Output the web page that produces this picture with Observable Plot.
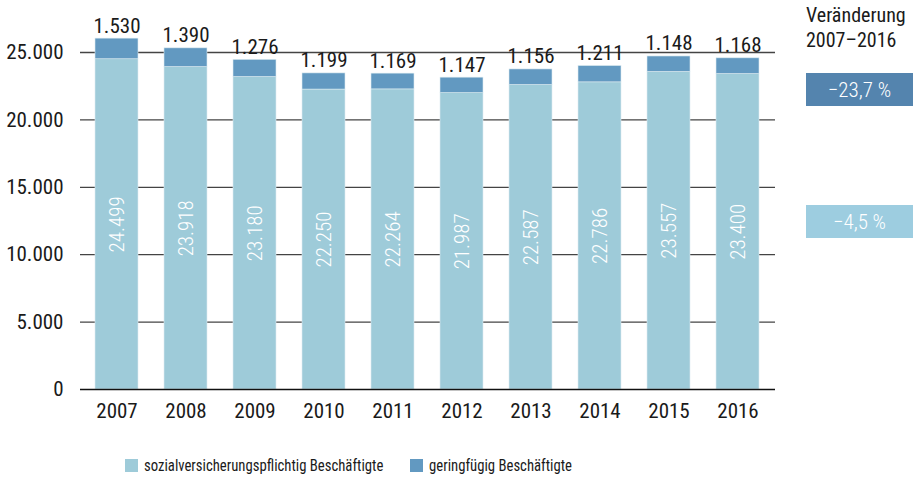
<!DOCTYPE html>
<html>
<head>
<meta charset="utf-8">
<script src="https://cdn.jsdelivr.net/npm/d3@7"></script>
<script src="https://cdn.jsdelivr.net/npm/@observablehq/plot@0.6"></script>
<style>
  body { margin: 0; background: #fff; }
  #wrap { position: relative; width: 913px; height: 479px; font-family: "Roboto Condensed", "Open Sans", sans-serif; font-weight: 400; color: #1a1a1a; }
  .box { position: absolute; left: 806px; width: 107px; height: 33px; color: #fff; font-size: 21px; font-weight: 300; display: flex; align-items: center; justify-content: center; }
  #head { position: absolute; left: 806px; top: 3px; font-size: 20px; line-height: 25px; }
  .item { position: absolute; display: flex; align-items: center; white-space: nowrap; }
  .sw { width: 13px; height: 13px; margin-right: 6px; flex: none; }
  .lab { display: inline-block; transform: scaleX(0.92); transform-origin: left center; }
</style>
</head>
<body>
<div id="wrap"></div>
<script>
const years = [2007, 2008, 2009, 2010, 2011, 2012, 2013, 2014, 2015, 2016];
const svb = [24499, 23918, 23180, 22250, 22264, 21987, 22587, 22786, 23557, 23400];
const gering = [1530, 1390, 1276, 1199, 1169, 1147, 1156, 1211, 1148, 1168];
const seriesNames = ["sozialversicherungspflichtig Beschäftigte", "geringfügig Beschäftigte"];
const barColors = ["#9ecbd9", "#6299c1"];
const changeTitle = ["Veränderung", "2007–2016"];
const changeLabels = ["−23,7 %", "−4,5 %"];
const boxColors = ["#5484ae", "#9dcde0"];
const yTicks = [0, 5000, 10000, 15000, 20000, 25000];

const de = d3.formatLocale({decimal: ",", thousands: ".", grouping: [3], currency: ["", " €"]});
const fmt = de.format(",");

const rows = [];
years.forEach((y, i) => {
  rows.push({year: String(y), type: seriesNames[0], value: svb[i], total: svb[i]});
  rows.push({year: String(y), type: seriesNames[1], value: gering[i], total: svb[i] + gering[i]});
});
const lower = rows.filter(d => d.type === seriesNames[0]);
const upper = rows.filter(d => d.type === seriesNames[1]);

const chart = Plot.plot({
  width: 913,
  height: 448,
  marginLeft: 80,
  marginRight: 138,
  marginTop: 52,
  marginBottom: 59,
  style: {fontFamily: "'Roboto Condensed', 'Open Sans', sans-serif", fontWeight: 400, fontSize: "20px", color: "#1a1a1a", background: "transparent"},
  x: {domain: years.map(String), paddingInner: 0.37, paddingOuter: 0.185, label: null},
  y: {domain: [0, 25000], label: null},
  color: {domain: seriesNames, range: barColors},
  marks: [
    Plot.ruleY(yTicks.filter(t => t > 0), {stroke: "#444", strokeWidth: 1.3}),
    Plot.barY(rows, {x: "year", y: "value", fill: "type", order: seriesNames, stroke: "#dcebf0", strokeWidth: 0.6}),
    Plot.ruleY([0], {stroke: "#111", strokeWidth: 1.5}),
    Plot.axisY({ticks: yTicks, tickFormat: fmt, tickSize: 0, tickPadding: 17, fontSize: 21}),
    Plot.axisX({tickSize: 0, tickPadding: 14, fontSize: 21}),
    Plot.text(upper, {x: "year", y: "total", text: d => fmt(d.value), lineAnchor: "bottom", dy: -6, fontSize: 21, fill: "#1a1a1a"}),
    Plot.text(lower, {x: "year", y: d => d.value / 2, text: d => fmt(d.value), rotate: -90, fill: "#fff", fontSize: 21, fontWeight: 300})
  ]
});

const wrap = document.getElementById("wrap");
wrap.appendChild(chart);

const head = document.createElement("div");
head.id = "head";
head.innerHTML = changeTitle.join("<br>");
wrap.appendChild(head);

const boxTops = [73, 205];
changeLabels.forEach((t, i) => {
  const b = document.createElement("div");
  b.className = "box";
  b.style.top = boxTops[i] + "px";
  b.style.background = boxColors[i];
  b.textContent = t;
  wrap.appendChild(b);
});

const legendLefts = [125, 410];
seriesNames.forEach((n, i) => {
  const it = document.createElement("div");
  it.className = "item";
  it.style.left = legendLefts[i] + "px";
  it.style.top = "456px";
  it.style.fontSize = "16px";
  it.innerHTML = `<span class="sw" style="background:${barColors[i]}"></span><span class="lab">${n}</span>`;
  wrap.appendChild(it);
});
</script>
</body>
</html>
